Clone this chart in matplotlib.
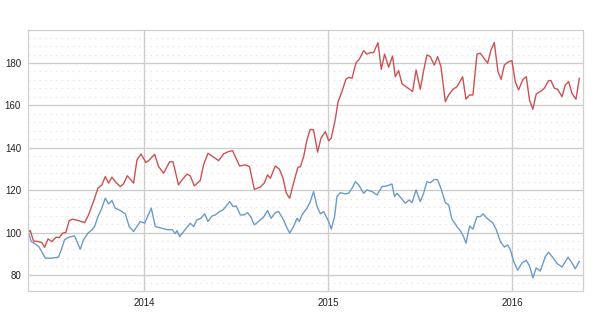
import matplotlib
matplotlib.use('Agg')
import matplotlib.pyplot as plt
from matplotlib.ticker import MultipleLocator

# time in decimal years
red_t = [2013.370, 2013.380, 2013.398, 2013.426, 2013.444, 2013.458, 2013.477, 2013.498,
         2013.520, 2013.538, 2013.556, 2013.574, 2013.592, 2013.610, 2013.643, 2013.676,
         2013.697, 2013.724, 2013.748, 2013.770, 2013.788, 2013.806, 2013.824, 2013.846,
         2013.870, 2013.887, 2013.908, 2013.942, 2013.960, 2013.982, 2014.009, 2014.027,
         2014.056, 2014.078, 2014.105, 2014.138, 2014.156, 2014.186, 2014.205, 2014.232,
         2014.250, 2014.272, 2014.304, 2014.322, 2014.346, 2014.377, 2014.404, 2014.431,
         2014.458, 2014.480, 2014.518, 2014.549, 2014.572, 2014.598, 2014.630, 2014.652,
         2014.670, 2014.685, 2014.712, 2014.734, 2014.754, 2014.772, 2014.790, 2014.811,
         2014.835, 2014.848, 2014.866, 2014.884, 2014.902, 2014.920, 2014.942, 2014.960,
         2014.984, 2015.002, 2015.016, 2015.038, 2015.053, 2015.074, 2015.096, 2015.110,
         2015.129, 2015.151, 2015.168, 2015.192, 2015.210, 2015.228, 2015.246, 2015.270,
         2015.288, 2015.306, 2015.328, 2015.349, 2015.364, 2015.382, 2015.401, 2015.428,
         2015.458, 2015.477, 2015.500, 2015.518, 2015.536, 2015.554, 2015.576, 2015.594,
         2015.612, 2015.636, 2015.654, 2015.678, 2015.699, 2015.730, 2015.748, 2015.768,
         2015.786, 2015.808, 2015.826, 2015.866, 2015.884, 2015.902, 2015.922, 2015.939,
         2015.957, 2015.980, 2015.998, 2016.016, 2016.034, 2016.058, 2016.076, 2016.094,
         2016.112, 2016.130, 2016.152, 2016.174, 2016.197, 2016.210, 2016.228, 2016.246,
         2016.270, 2016.288, 2016.306, 2016.324, 2016.346, 2016.364]
red_v = [100.1, 101.0, 96.0, 95.7, 95.2, 93.0, 97.0, 95.7,
         97.8, 97.6, 99.7, 100.0, 105.6, 106.3, 105.6, 104.7,
         108.3, 114.6, 120.9, 122.5, 126.4, 123.3, 126.1, 123.6,
         121.7, 122.9, 126.8, 123.3, 134.2, 137.1, 133.0, 134.2,
         136.9, 131.1, 128.0, 133.4, 133.4, 122.5, 124.8, 127.6,
         126.7, 122.0, 124.5, 131.9, 137.4, 135.5, 133.9, 137.1,
         138.2, 138.6, 131.4, 131.9, 131.1, 120.4, 121.4, 123.3,
         127.2, 125.6, 131.4, 129.9, 125.6, 118.5, 116.2, 123.3,
         130.8, 131.0, 135.8, 143.7, 148.7, 148.4, 137.9, 144.5,
         147.6, 143.3, 144.5, 153.4, 161.7, 166.5, 172.3, 173.2,
         172.8, 180.2, 181.7, 185.8, 184.2, 184.9, 184.9, 189.6,
         177.0, 184.2, 178.0, 183.3, 173.5, 176.4, 170.1, 168.5,
         166.5, 176.7, 167.6, 176.4, 183.8, 183.0, 179.0, 183.0,
         178.3, 161.7, 164.9, 167.6, 168.8, 173.5, 163.0, 164.9,
         164.9, 184.2, 184.6, 179.9, 186.1, 189.6, 175.9, 172.3,
         179.1, 180.6, 181.1, 171.2, 167.3, 172.3, 173.5, 162.2,
         158.2, 165.4, 166.5, 168.1, 171.7, 171.7, 168.1, 167.6,
         164.1, 169.6, 171.2, 165.7, 162.9, 172.8]

blue_t = [2013.370, 2013.386, 2013.408, 2013.429, 2013.462, 2013.498, 2013.534, 2013.549,
          2013.567, 2013.589, 2013.621, 2013.652, 2013.670, 2013.694, 2013.716, 2013.730,
          2013.748, 2013.766, 2013.788, 2013.806, 2013.824, 2013.842, 2013.870, 2013.897,
          2013.918, 2013.942, 2013.978, 2014.002, 2014.038, 2014.060, 2014.096, 2014.127,
          2014.151, 2014.168, 2014.178, 2014.192, 2014.214, 2014.250, 2014.268, 2014.286,
          2014.308, 2014.328, 2014.346, 2014.368, 2014.386, 2014.409, 2014.428, 2014.446,
          2014.464, 2014.482, 2014.500, 2014.522, 2014.543, 2014.561, 2014.580, 2014.598,
          2014.621, 2014.648, 2014.670, 2014.689, 2014.712, 2014.730, 2014.757, 2014.772,
          2014.790, 2014.811, 2014.830, 2014.842, 2014.857, 2014.884, 2014.902, 2014.920,
          2014.939, 2014.957, 2014.974, 2015.002, 2015.016, 2015.034, 2015.047, 2015.065,
          2015.092, 2015.110, 2015.129, 2015.147, 2015.165, 2015.192, 2015.210, 2015.238,
          2015.265, 2015.292, 2015.319, 2015.346, 2015.360, 2015.373, 2015.397, 2015.418,
          2015.440, 2015.455, 2015.477, 2015.500, 2015.518, 2015.536, 2015.554, 2015.578,
          2015.594, 2015.612, 2015.636, 2015.654, 2015.672, 2015.699, 2015.717, 2015.735,
          2015.748, 2015.768, 2015.786, 2015.808, 2015.826, 2015.841, 2015.863, 2015.895,
          2015.913, 2015.935, 2015.957, 2015.974, 2015.989, 2016.007, 2016.029, 2016.053,
          2016.076, 2016.094, 2016.112, 2016.130, 2016.152, 2016.179, 2016.197, 2016.221,
          2016.243, 2016.270, 2016.303, 2016.324, 2016.342, 2016.364]
blue_v = [100.1, 95.7, 94.6, 93.1, 87.9, 87.9, 88.4, 91.9,
          96.6, 97.8, 98.4, 92.1, 96.6, 99.7, 101.3, 102.8,
          107.5, 110.7, 116.2, 113.5, 115.1, 111.5, 110.4, 108.8,
          102.8, 100.5, 105.2, 104.4, 111.5, 102.8, 102.0, 101.3,
          101.4, 99.5, 100.9, 98.1, 100.5, 104.4, 102.8, 106.0,
          106.7, 108.8, 105.2, 107.8, 108.3, 109.9, 110.7, 112.5,
          114.6, 112.3, 112.5, 108.3, 108.3, 109.4, 107.2, 103.6,
          105.2, 107.2, 110.4, 106.7, 109.4, 109.9, 105.9, 102.8,
          99.7, 102.8, 106.7, 105.2, 108.3, 111.5, 114.6, 119.3,
          112.3, 108.8, 109.9, 105.2, 101.6, 107.5, 117.0, 118.8,
          118.2, 118.5, 120.9, 124.0, 122.5, 118.5, 120.1, 119.3,
          117.7, 121.7, 122.0, 122.9, 117.0, 118.5, 116.2, 113.8,
          115.4, 114.1, 120.1, 114.6, 118.5, 124.0, 123.5, 125.1,
          124.8, 120.9, 114.1, 113.0, 106.3, 102.8, 100.9, 98.1,
          95.0, 103.1, 101.6, 107.5, 107.5, 108.8, 106.7, 104.4,
          101.3, 95.7, 93.1, 94.2, 91.9, 86.4, 82.2, 85.7,
          86.9, 84.1, 78.6, 83.3, 81.8, 88.6, 90.7, 88.1,
          85.4, 83.7, 88.4, 85.7, 82.9, 86.4]

year_ticks = [2014, 2015, 2016]
year_labels = ['2014', '2015', '2016']

plt.rcParams['font.family'] = ['Liberation Sans', 'DejaVu Sans']

fig = plt.figure(figsize=(6.03, 3.17), dpi=100)
ax = fig.add_axes([0.0464, 0.082, 0.9204, 0.8236])

ax.plot(red_t, red_v, color='#cc5252', linewidth=1.0)
ax.plot(blue_t, blue_v, color='#6b9bc9', linewidth=1.0)

ax.set_xlim(2013.368, 2016.384)
ax.set_ylim(72.4, 195.6)

ax.set_xticks(year_ticks)
ax.set_xticklabels(year_labels)
ax.yaxis.set_major_locator(MultipleLocator(20))
ax.yaxis.set_minor_locator(MultipleLocator(4))

ax.grid(True, which='major', color='#cdcdcd', linewidth=1.0, linestyle='-')
ax.grid(True, which='minor', axis='y', color='#ecd2ec', linewidth=0.8, linestyle=(0, (1, 4)))
ax.set_axisbelow(True)

ax.tick_params(which='both', length=0, labelsize=7, colors='#222222', pad=5)

for s in ax.spines.values():
    s.set_color('#d0d0d0')
    s.set_linestyle((0, (1, 1)))
    s.set_linewidth(0.9)

fig.savefig('out.png', dpi=100)
